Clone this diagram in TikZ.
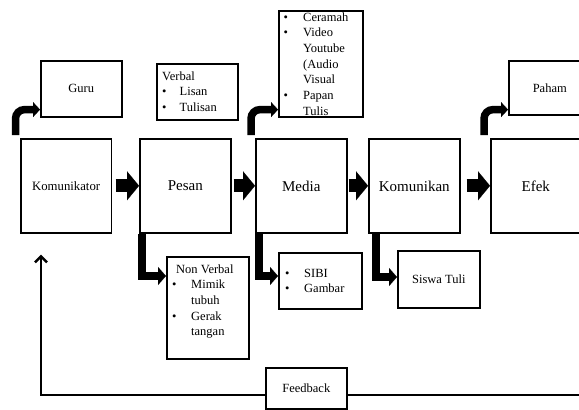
\documentclass[tikz,border=0pt]{standalone}
\usepackage{fontspec}
\setmainfont{Liberation Serif}
\usetikzlibrary{arrows.meta,calc}
\begin{document}
\begin{tikzpicture}[x=1pt,y=-1pt,
  box/.style={draw, line width=1.6pt, inner sep=0pt, anchor=north west},
  big/.style={font=\fontsize{15}{18}\selectfont},
  small/.style={font=\fontsize{12.5}{15.7}\selectfont},
  txt/.style={inner sep=0pt, anchor=base west, font=\fontsize{12.5}{15.7}\selectfont},
  blockarrow/.style={line width=13pt, -{Triangle[length=12pt,width=29pt,line width=0.1pt]}},
  bentarrow/.style={line width=7.5pt, rounded corners=9pt, -{Triangle[length=7pt,width=15pt,line width=0.1pt]}},
  downarrow/.style={line width=8pt, -{Triangle[length=8pt,width=18pt,line width=0.1pt]}},
  feedline/.style={line width=2.5pt}
]
\useasboundingbox (0,0) rectangle (579,410);
\clip (0,0) rectangle (579,410);

% corners of the boxes holding lists
\coordinate (verbalNW) at (156,63);
\coordinate (mtopNW) at (278,10);
\coordinate (nonvNW) at (166,256);
\coordinate (sibiNW) at (278,252);

% texts of list boxes (set before the borders, which pass over them)
\node[txt] (verbaltxt) at ($(verbalNW)+(6,17)$)
  {\begin{tabular}[t]{@{}p{17.5pt}@{}l@{}}\multicolumn{2}{@{}l@{}}{Verbal}\\ •&Lisan\\ •&Tulisan\end{tabular}};
\node[txt] (mtoptxt) at ($(mtopNW)+(5.5,11)$)
  {\begin{tabular}[t]{@{}p{19.5pt}@{}l@{}}•&Ceramah\\ •&Video\\ &Youtube\\ &(Audio\\ &Visual\\ •&Papan\\ &Tulis\end{tabular}};
\node[txt] (nonvtxt) at ($(nonvNW)+(6,17)$)
  {\begin{tabular}[t]{@{}p{19pt}@{}l@{}}\multicolumn{2}{@{}l@{}}{\hspace{4pt}Non Verbal}\\ •&Mimik\\ &tubuh\\ •&Gerak\\ &tangan\end{tabular}};
\node[txt] (sibitxt) at ($(sibiNW)+(7,25)$)
  {\begin{tabular}[t]{@{}p{19pt}@{}l@{}}•&SIBI\\ •&Gambar\end{tabular}};

% main boxes
\node[box, minimum width=90.7pt, minimum height=94pt, font=\fontsize{12.75}{15}\selectfont, text depth=-3pt] (kom) at (20,138) {Komunikator};
\node[box, big, minimum width=91pt, minimum height=94pt, text depth=-3pt] (pes) at (139,138) {Pesan};
\node[box, big, minimum width=91pt, minimum height=94pt, text depth=-3pt] (med) at (255,138) {Media};
\node[box, big, minimum width=91pt, minimum height=94pt, text depth=-3pt] (kmn) at (368,138) {Komunikan};
\node[box, big, minimum width=90pt, minimum height=94pt, text depth=-3pt] (efk) at (490,138) {Efek};

% side boxes
\node[box, small, minimum width=81pt, minimum height=56pt] (guru) at (40,60) {Guru};
\node[box, minimum width=81pt, minimum height=56pt] (verbal) at (verbalNW) {};
\node[box, minimum width=84pt, minimum height=106pt] (mtop) at (mtopNW) {};
\node[box, small, minimum width=82pt, minimum height=54pt] (paham) at (508,60) {Paham};
\node[box, minimum width=82pt, minimum height=102pt] (nonv) at (nonvNW) {};
\node[box, minimum width=83pt, minimum height=56pt] (sibi) at (sibiNW) {};
\node[box, small, minimum width=82pt, minimum height=57pt] (siswa) at (397,250) {Siswa Tuli};
\node[box, small, minimum width=81pt, minimum height=41pt] (fb) at (265,367) {Feedback};

% block arrows
\draw[blockarrow] ($(kom.east)+(3.3,0)$) -- (pes.west);
\draw[blockarrow] ($(pes.east)+(2,0)$) -- (med.west);
\draw[blockarrow] ($(med.east)+(1,0)$) -- (kmn.west);
\draw[blockarrow] ($(kmn.east)+(6,0)$) -- (efk.west);

% bent arrows up
\draw[bentarrow] ($(kom.north west)+(-4.5,-3)$) |- ($(guru.south west)+(0,-8)$);
\draw[bentarrow] ($(med.north west)+(-4,-3)$) |- ($(mtop.south west)+(0,-8)$);
\draw[bentarrow] ($(efk.north west)+(-6,-3)$) |- ($(paham.south west)+(0,-6)$);

% arrows down
\draw[downarrow] ($(pes.south west)+(3,0)$) |- ($(nonv.north west)+(0,20)$);
\draw[downarrow] ($(med.south west)+(4,0)$) |- ($(sibi.north west)+(0,24)$);
\draw[downarrow] ($(kmn.south west)+(7.5,0)$) |- ($(siswa.north west)+(0,27)$);

% feedback
\coordinate (fbr) at (582,395);
\coordinate (fbtip) at ($(kom.south west)+(21,21)$);
\draw[feedline] (fbr) -- (fbr -| fb.east);
\draw[feedline, -{Straight Barb[length=6pt,width=12pt]}] (fbr -| fb.west) -| (fbtip);
\end{tikzpicture}
\end{document}
